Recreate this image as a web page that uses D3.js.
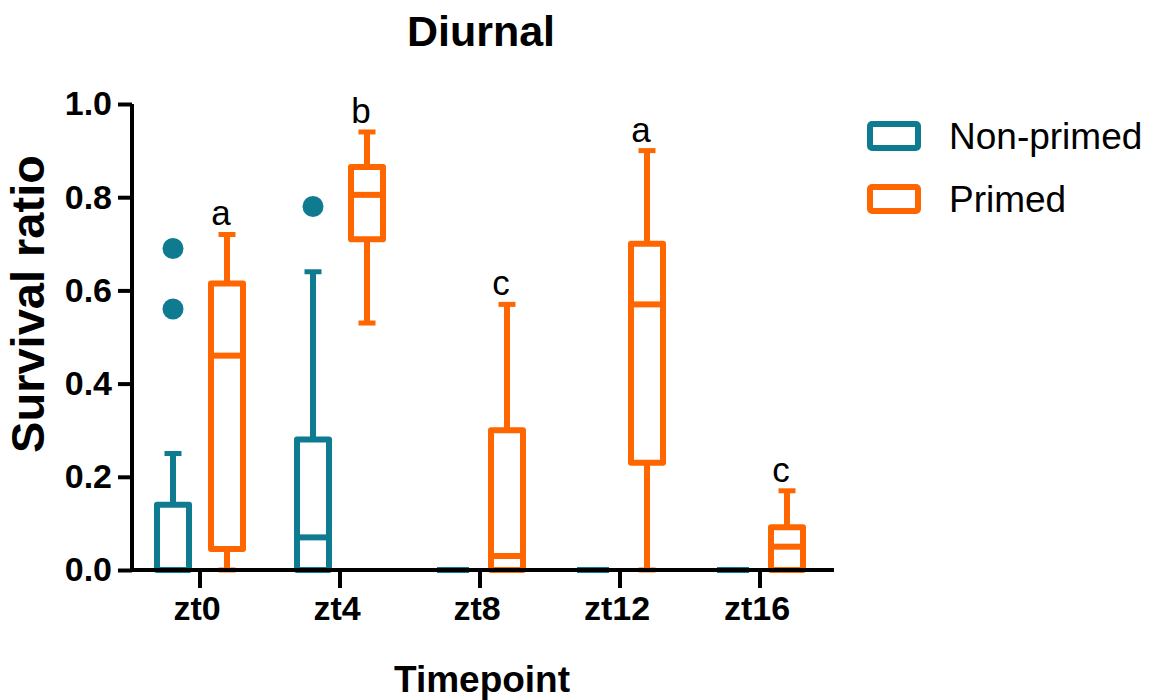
<!DOCTYPE html>
<html>
<head>
<meta charset="utf-8">
<script src="https://cdn.jsdelivr.net/npm/d3@7"></script>
<style>
  body { margin: 0; background: #fff; }
  text { font-family: "Liberation Sans", Arial, sans-serif; }
</style>
</head>
<body>
<svg width="1153" height="700"></svg>
<script>
  var timepoints = ['zt0', 'zt4', 'zt8', 'zt12', 'zt16'];
  var groups = ['Non-primed', 'Primed'];

  // [min, q1, median, q3, max]
  var nonPrimed = [
    [0, 0, 0, 0.14, 0.25],
    [0, 0, 0.07, 0.28, 0.64],
    [0, 0, 0, 0, 0],
    [0, 0, 0, 0, 0],
    [0, 0, 0, 0, 0]
  ];
  var primed = [
    [0, 0.045, 0.46, 0.615, 0.72],
    [0.53, 0.71, 0.805, 0.865, 0.94],
    [0, 0, 0.03, 0.30, 0.57],
    [0, 0.23, 0.57, 0.70, 0.90],
    [0, 0, 0.05, 0.092, 0.17]
  ];
  var nonPrimedOutliers = [[0.69, 0.56], [0.78], [], [], []];
  var letters = ['a', 'b', 'c', 'a', 'c'];
  var yTicks = [0, 0.2, 0.4, 0.6, 0.8, 1.0];

  var colors = { 'Non-primed': '#0f7b91', 'Primed': '#ff6600' };

  var svg = d3.select('svg');

  var x = d3.scaleBand()
    .domain(timepoints)
    .range([130, 830]);

  var y = d3.scaleLinear()
    .domain([0, 1])
    .range([570, 104]);

  var offset = { 'Non-primed': -27, 'Primed': 27 };
  var boxW = 32;
  var capW = 17;

  function drawBox(stats, group, i) {
    var cx = x(timepoints[i]) + x.bandwidth() / 2 + offset[group];
    var col = colors[group];
    var g = svg.append('g')
      .attr('stroke', col)
      .attr('stroke-width', 6)
      .attr('fill', 'none')
      .attr('stroke-linejoin', 'round');

    // whiskers
    g.append('line')
      .attr('x1', cx).attr('x2', cx)
      .attr('y1', y(stats[3])).attr('y2', y(stats[4]));
    g.append('line')
      .attr('x1', cx).attr('x2', cx)
      .attr('y1', y(stats[1])).attr('y2', y(stats[0]));
    g.append('line')
      .attr('stroke-width', 5)
      .attr('x1', cx - capW / 2).attr('x2', cx + capW / 2)
      .attr('y1', y(stats[4])).attr('y2', y(stats[4]));
    g.append('line')
      .attr('stroke-width', 5)
      .attr('x1', cx - capW / 2).attr('x2', cx + capW / 2)
      .attr('y1', y(stats[0])).attr('y2', y(stats[0]));

    // box
    g.append('rect')
      .attr('x', cx - boxW / 2)
      .attr('y', y(stats[3]))
      .attr('width', boxW)
      .attr('height', y(stats[1]) - y(stats[3]))
      .attr('fill', '#fff');
    g.append('line')
      .attr('x1', cx - boxW / 2).attr('x2', cx + boxW / 2)
      .attr('y1', y(stats[2])).attr('y2', y(stats[2]));
  }

  nonPrimed.forEach(function (s, i) { drawBox(s, 'Non-primed', i); });
  primed.forEach(function (s, i) { drawBox(s, 'Primed', i); });

  // outliers
  nonPrimedOutliers.forEach(function (vals, i) {
    vals.forEach(function (v) {
      svg.append('circle')
        .attr('cx', x(timepoints[i]) + x.bandwidth() / 2 + offset['Non-primed'])
        .attr('cy', y(v))
        .attr('r', 10.5)
        .attr('fill', colors['Non-primed']);
    });
  });

  // significance letters
  letters.forEach(function (l, i) {
    svg.append('text')
      .attr('x', x(timepoints[i]) + x.bandwidth() / 2 + offset['Primed'] - 6)
      .attr('y', y(primed[i][4]) - 9)
      .attr('text-anchor', 'middle')
      .attr('font-size', 35)
      .attr('fill', '#000')
      .text(l);
  });

  // axes
  var yAxis = svg.append('g')
    .attr('transform', 'translate(132,0)')
    .call(d3.axisLeft(y).tickValues(yTicks).tickSize(14).tickPadding(6).tickFormat(d3.format('.1f')));
  var xAxis = svg.append('g')
    .attr('transform', 'translate(0,570)')
    .call(d3.axisBottom(x).tickSize(18).tickPadding(8));

  xAxis.select('.domain').attr('d', 'M132,0H834');
  yAxis.select('.domain').attr('d', 'M0,' + y(1) + 'V' + y(0));

  [xAxis, yAxis].forEach(function (a) {
    a.selectAll('.domain, .tick line')
      .attr('stroke', '#000')
      .attr('stroke-width', 4);
    a.selectAll('.tick text')
      .attr('fill', '#000')
      .attr('font-size', 34)
      .attr('font-weight', 'bold')
      .style('font-family', '"Liberation Sans", Arial, sans-serif');
  });
  xAxis.selectAll('.tick text').attr('dx', -3);

  // titles
  svg.append('text')
    .attr('x', 481).attr('y', 46)
    .attr('text-anchor', 'middle')
    .attr('font-size', 43)
    .attr('font-weight', 'bold')
    .text('Diurnal');

  svg.append('text')
    .attr('x', 482).attr('y', 692)
    .attr('text-anchor', 'middle')
    .attr('font-size', 37)
    .attr('font-weight', 'bold')
    .text('Timepoint');

  svg.append('text')
    .attr('transform', 'translate(44,304) rotate(-90)')
    .attr('text-anchor', 'middle')
    .attr('font-size', 47)
    .attr('font-weight', 'bold')
    .text('Survival ratio');

  // legend
  var legend = svg.append('g').attr('transform', 'translate(870,124)');
  groups.forEach(function (gname, i) {
    legend.append('rect')
      .attr('x', 0).attr('y', i * 63)
      .attr('width', 48).attr('height', 24)
      .attr('rx', 2)
      .attr('fill', '#fff')
      .attr('stroke', colors[gname])
      .attr('stroke-width', 6);
    legend.append('text')
      .attr('x', 79).attr('y', i * 63 + 25)
      .attr('font-size', 37)
      .attr('fill', '#000')
      .text(gname);
  });
</script>
</body>
</html>
